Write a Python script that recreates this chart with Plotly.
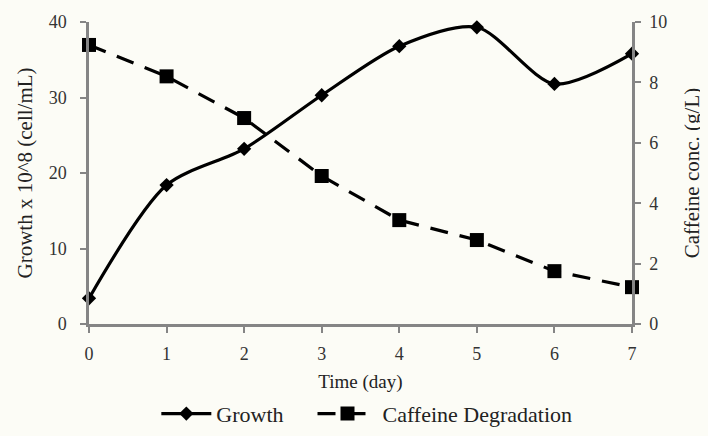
import plotly.graph_objects as go

days = [0, 1, 2, 3, 4, 5, 6, 7]
growth = [3.4, 18.4, 23.2, 30.3, 36.8, 39.3, 31.8, 35.8]
caffeine = [9.24, 8.2, 6.82, 4.9, 3.44, 2.78, 1.75, 1.22]

left_ticks = [0, 10, 20, 30, 40]
right_ticks = [0, 2, 4, 6, 8, 10]

font_family = "Liberation Serif, Times New Roman, serif"
axis_col = "#858585"
bg = "#fcfcf6"

fig = go.Figure()
fig.add_trace(go.Scatter(
    x=days, y=growth, name="Growth", mode="lines+markers",
    line=dict(color="black", width=3.2, shape="spline", smoothing=0.8),
    marker=dict(symbol="diamond", size=11, color="black"),
    cliponaxis=False, legend="legend",
))
fig.add_trace(go.Scatter(
    x=days, y=caffeine, name="Caffeine Degradation", mode="lines+markers",
    yaxis="y2",
    line=dict(color="black", width=3.2, dash="18px,12px"),
    marker=dict(symbol="square", size=14, color="black"),
    cliponaxis=False, legend="legend2",
))

common = dict(
    showgrid=False, zeroline=False, automargin=False,
    showline=True, linecolor=axis_col, linewidth=2.5,
    ticks="outside", ticklen=6, tickwidth=2, tickcolor=axis_col,
    tickfont=dict(size=18, color="#333333"),
)

legend_common = dict(
    orientation="h", xanchor="left", yref="container", y=0.052, yanchor="middle",
    font=dict(size=22, color="#222222"), bgcolor="rgba(0,0,0,0)",
)

fig.update_layout(
    width=700, height=428,
    margin=dict(l=81, r=76, t=14, b=112),
    paper_bgcolor=bg, plot_bgcolor=bg,
    font=dict(family=font_family, size=18, color="#222222"),
    showlegend=True,
    legend=dict(x=0.124, itemwidth=50, **legend_common),
    legend2=dict(x=0.4116, itemwidth=60, **legend_common),
    xaxis=dict(
        range=[0, 7], tickvals=days,
        title=dict(text="Time (day)", font=dict(size=19), standoff=12),
        ticklabelstandoff=6,
        **common,
    ),
    yaxis=dict(
        range=[0, 40], tickvals=left_ticks,
        title=dict(text="Growth x 10^8 (cell/mL)", font=dict(size=21), standoff=11),
        ticklabelstandoff=10,
        **common,
    ),
    yaxis2=dict(
        range=[0, 10], tickvals=right_ticks, overlaying="y", side="right",
        title=dict(text="Caffeine conc. (g/L)", font=dict(size=21), standoff=18),
        ticklabelstandoff=5,
        **common,
    ),
)

fig.write_html("out.html", post_script="document.body.style.background='%s';" % bg)
